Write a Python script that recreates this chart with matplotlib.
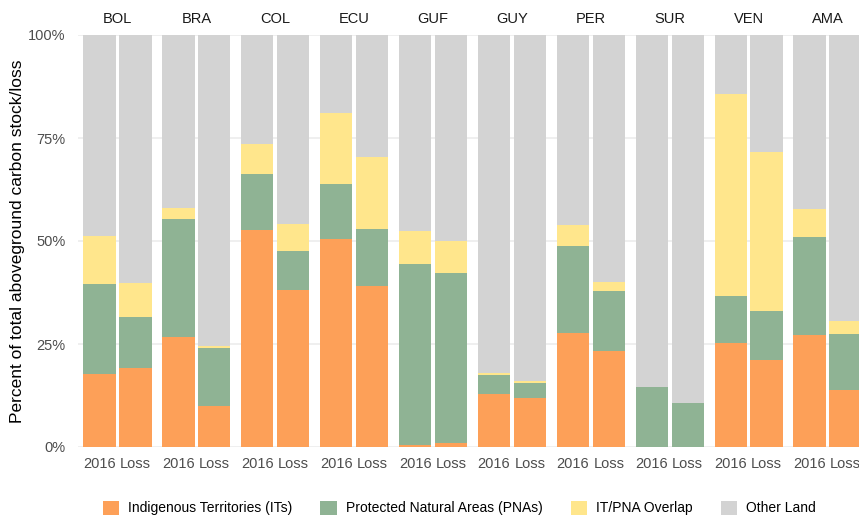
import matplotlib
matplotlib.use("Agg")
import matplotlib.pyplot as plt
from matplotlib.patches import Patch
from matplotlib.ticker import FuncFormatter
import numpy as np

plt.rcParams['font.family'] = ['Liberation Sans', 'DejaVu Sans']

countries = ['BOL', 'BRA', 'COL', 'ECU', 'GUF', 'GUY', 'PER', 'SUR', 'VEN', 'AMA']
bar_labels = ['2016', 'Loss']

its_2016 = [17.6, 26.7, 52.7, 50.6, 0.6, 12.9, 27.6, 0.0, 25.3, 27.1]
pna_2016 = [21.9, 28.6, 13.6, 13.2, 43.7, 4.6, 21.3, 14.6, 11.4, 23.9]
ovl_2016 = [11.8, 2.8, 7.2, 17.3, 8.2, 0.4, 5.0, 0.0, 48.9, 6.8]

its_loss = [19.1, 10.0, 38.1, 39.1, 0.9, 12.0, 23.3, 0.0, 21.0, 13.9]
pna_loss = [12.5, 14.0, 9.5, 13.8, 41.3, 3.5, 14.5, 10.7, 12.0, 13.5]
ovl_loss = [8.2, 0.6, 6.6, 17.6, 7.7, 0.4, 2.3, 0.0, 38.7, 3.1]

legend_labels = ['Indigenous Territories (ITs)', 'Protected Natural Areas (PNAs)',
                 'IT/PNA Overlap', 'Other Land']
colors = ['#FDA058', '#8FB394', '#FFE68C', '#D3D3D3']

W, H = 859, 516
fig = plt.figure(figsize=(W / 100, H / 100), dpi=100)

ax_left = 78 / W
ax_bottom = (H - 447) / H
ax_top = (H - 35) / H
panel_w = 78.9 / W
ax = fig.add_axes([ax_left, ax_bottom, panel_w * 10, ax_top - ax_bottom])

step = 2.2
x16 = np.array([step * i + 1 for i in range(len(countries))])
xls = x16 + 1

def stack(xpos, its, pna, ovl):
    its = np.array(its); pna = np.array(pna); ovl = np.array(ovl)
    other = 100 - its - pna - ovl
    bottom = np.zeros_like(its)
    for vals, c in zip([its, pna, ovl, other], colors):
        ax.bar(xpos, vals, bottom=bottom, width=0.9, color=c, linewidth=0, zorder=2)
        bottom = bottom + vals

stack(x16, its_2016, pna_2016, ovl_2016)
stack(xls, its_loss, pna_loss, ovl_loss)

ax.set_xlim(0.4, step * len(countries) + 0.4)
ax.set_ylim(0, 100)
ax.set_yticks([0, 25, 50, 75, 100])
ax.yaxis.set_major_formatter(FuncFormatter(lambda v, p: f"{int(v)}%"))
ticks = np.ravel(np.column_stack([x16, xls]))
ax.set_xticks(ticks)
ax.set_xticklabels(bar_labels * len(countries))
ax.tick_params(axis='both', length=0, labelsize=10.5, labelcolor='#4D4D4D')
ax.tick_params(axis='x', pad=7)
ax.tick_params(axis='y', pad=9)
ax.grid(axis='y', color='#EBEBEB', linewidth=1.1, zorder=0)
ax.set_axisbelow(True)
for s in ax.spines.values():
    s.set_visible(False)

for i, c in enumerate(countries):
    ax.annotate(c, xy=(x16[i] + 0.5, 100), xycoords='data',
                xytext=(0, 11.5), textcoords='offset points',
                ha='center', va='center', fontsize=10.5, color='#1A1A1A')

fig.text(18 / W, (ax_bottom + ax_top) / 2, 'Percent of total aboveground carbon stock/loss',
         rotation=90, ha='center', va='center', fontsize=12.5, color='#000000')

handles = [Patch(facecolor=c, edgecolor='none') for c in colors]
fig.legend(handles, legend_labels, loc='center', bbox_to_anchor=(459.5 / W, 8 / H),
           ncol=4, frameon=False, fontsize=10, handlelength=1.2, handleheight=1.2,
           handletextpad=0.65, columnspacing=2.0)

fig.savefig('out.png', dpi=100)
